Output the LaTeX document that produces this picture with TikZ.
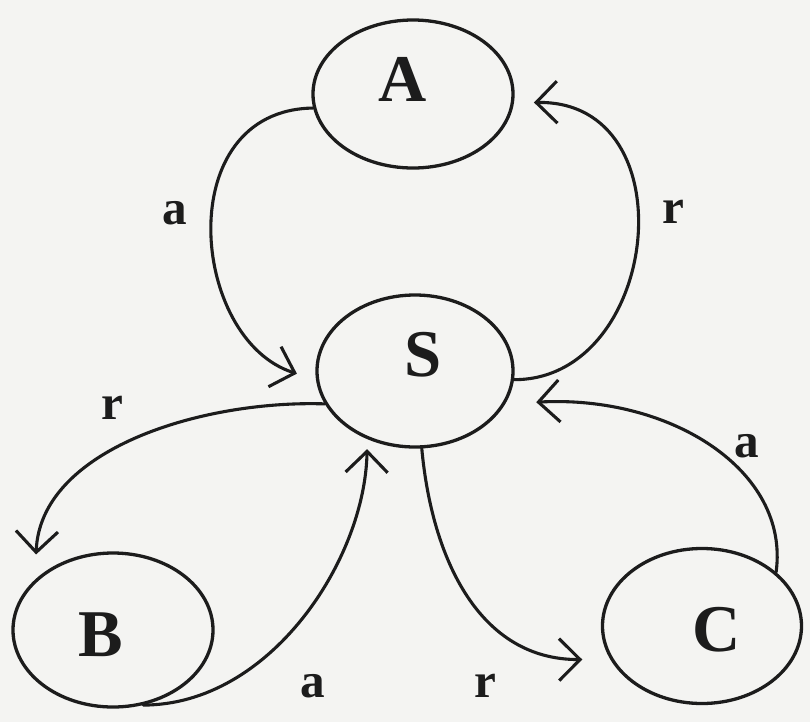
\documentclass[tikz,border=0pt]{standalone}
\usepackage{fontspec}
\setmainfont{Liberation Serif}
\usetikzlibrary{arrows.meta,shapes.geometric}
\definecolor{paper}{RGB}{244,244,242}
\definecolor{ink}{RGB}{28,28,28}

\begin{document}
\begin{tikzpicture}[x=0.2mm,y=-0.2mm,
state/.style={draw=ink,ellipse,line width=0.66mm,inner sep=0pt,minimum width=40mm},
letter/.style={font=\fontsize{38}{40}\selectfont\bfseries,text=ink,inner sep=0pt},
lbl/.style={font=\fontsize{28}{30}\selectfont\bfseries,text=ink,inner sep=0pt},
arr/.style={draw=ink,line width=0.62mm,line cap=round,-{Straight Barb[length=4.2mm,width=8.4mm]}}]
\fill[paper] (0,0) rectangle (810,722);
\useasboundingbox (0,0) rectangle (810,722);
% states
\node[state,minimum height=29.6mm] (A) at (413,94) {};
\node[state,minimum width=39.2mm,minimum height=30.4mm] (S) at (415,371) {};
\node[state,minimum height=30.8mm] (B) at (113,630) {};
\node[state,minimum width=39.8mm,minimum height=31mm] (C) at (702,626) {};
\node[letter] (Atxt) at (403,79) {A};
\node[letter] (Stxt) at (423,355) {S};
\node[letter] (Btxt) at (101,635) {B};
\node[letter] (Ctxt) at (717,630) {C};
% transitions
\draw[arr,shorten >=4mm] (A.188) .. controls (170,110) and (190,340) .. (S.185);
\draw[arr,shorten >=4mm] (S.355) .. controls (660,380) and (690,100) .. (A.355);
\draw[arr,shorten >=5mm] (S.200) .. controls (200,400) and (40,450) .. (B.147);
\draw[arr,shorten >=2mm] (B.292) .. controls (270,705) and (365,560) .. (S.235);
\draw[arr,shorten >=5.6mm] (S.275) .. controls (432,560) and (480,660) .. (C.200);
\draw[arr,shorten >=6.2mm] (C.36) .. controls (790,470) and (670,395) .. (S.340);
% labels
\node[lbl] (lAS) at (175,213) {a};
\node[lbl] (lSA) at (673,212) {r};
\node[lbl] (lSB) at (112,408) {r};
\node[lbl] (lBS) at (313,686) {a};
\node[lbl] (lSC) at (485,686) {r};
\node[lbl] (lCS) at (747,446) {a};
\end{tikzpicture}
\end{document}
